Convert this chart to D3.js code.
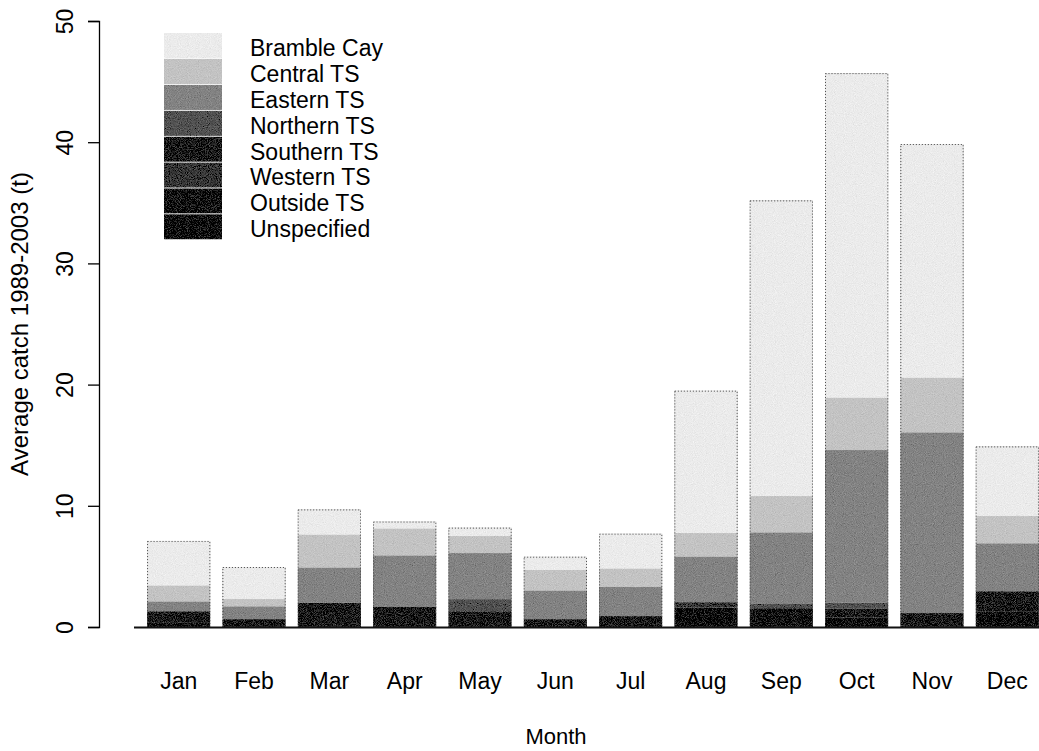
<!DOCTYPE html>
<html>
<head>
<meta charset="utf-8">
<script src="https://cdn.jsdelivr.net/npm/d3@7"></script>
<style>
  html, body { margin: 0; padding: 0; background: #fff; }
  svg { display: block; font-family: "Liberation Sans", Arial, Helvetica, sans-serif; }
</style>
</head>
<body>
<svg id="chart" width="1039" height="751"></svg>
<script>
// Average monthly catch (t), 1989-2003, by fishing region
const months = ["Jan", "Feb", "Mar", "Apr", "May", "Jun", "Jul", "Aug", "Sep", "Oct", "Nov", "Dec"];

// Stack order, bottom to top
const regions = ["Unspecified", "Outside TS", "Western TS", "Southern TS", "Northern TS", "Eastern TS", "Central TS", "Bramble Cay"];

const unspecified = [0.4, 0, 0, 0, 0, 0, 0, 1.6, 0, 0.8, 0, 1.3];
const outsideTS   = [0, 0, 0, 0, 0, 0, 0, 0, 1.55, 0, 0, 0];
const westernTS   = [0, 0, 0, 0, 0, 0, 0, 0.45, 0, 0, 0, 0];
const southernTS  = [0.9, 0.65, 2.0, 1.65, 1.3, 0.65, 0.9, 0, 0, 0.7, 1.15, 1.65];
const northernTS  = [0, 0, 0, 0, 1.0, 0, 0, 0, 0.35, 0.5, 0, 0];
const easternTS   = [0.8, 1.05, 2.9, 4.25, 3.8, 2.35, 2.4, 3.75, 5.9, 12.6, 14.9, 3.95];
const centralTS   = [1.3, 0.6, 2.7, 2.2, 1.4, 1.7, 1.5, 1.95, 3.0, 4.3, 4.5, 2.25];
const brambleCay  = [3.7, 2.65, 2.1, 0.6, 0.7, 1.1, 2.9, 11.75, 24.4, 26.8, 19.3, 5.75];

const yTicks = [0, 10, 20, 30, 40, 50];

const seriesValues = [unspecified, outsideTS, westernTS, southernTS, northernTS, easternTS, centralTS, brambleCay];
const greys = ["#000000", "#0d0d0d", "#383838", "#1c1c1c", "#525252", "#838383", "#c3c3c3", "#ebebeb"];

const table = months.map((m, i) => {
  const row = { month: m };
  regions.forEach((r, k) => { row[r] = seriesValues[k][i]; });
  return row;
});

const svg = d3.select("#chart");

// grain for the filled areas
const defs = svg.append("defs");
const f = defs.append("filter").attr("id", "grain")
  .attr("x", 0).attr("y", 0).attr("width", 1).attr("height", 1);
f.append("feTurbulence").attr("type", "fractalNoise").attr("baseFrequency", 1.1)
  .attr("numOctaves", 1).attr("seed", 7).attr("result", "noise");
f.append("feColorMatrix").attr("in", "noise").attr("type", "matrix")
  .attr("values", "0.33 0.33 0.33 0 0  0.33 0.33 0.33 0 0  0.33 0.33 0.33 0 0  0 0 0 0 1")
  .attr("result", "gnoise");
f.append("feComposite").attr("in", "SourceGraphic").attr("in2", "gnoise")
  .attr("operator", "arithmetic").attr("k1", 0).attr("k2", 1).attr("k3", 0.5).attr("k4", -0.25)
  .attr("result", "mix");
f.append("feComposite").attr("in", "mix").attr("in2", "SourceGraphic").attr("operator", "in");

const x = d3.scaleBand().domain(months).range([135, 1051]).padding(0.16);
const y = d3.scaleLinear().domain([0, 50]).range([627, 21]);
const color = d3.scaleOrdinal().domain(regions).range(greys);

const stack = d3.stack().keys(regions)(table);

// bars
const bars = svg.append("g").attr("filter", "url(#grain)");
bars.selectAll("g.layer")
  .data(stack)
  .join("g")
  .attr("class", "layer")
  .attr("fill", d => color(d.key))
  .selectAll("rect")
  .data(d => d)
  .join("rect")
  .attr("x", d => x(d.data.month))
  .attr("width", x.bandwidth())
  .attr("y", d => y(d[1]))
  .attr("height", d => Math.max(0, y(d[0]) - y(d[1])));

// dotted outline of each bar
svg.append("g").selectAll("rect")
  .data(table)
  .join("rect")
  .attr("x", d => x(d.month) + 0.5)
  .attr("width", x.bandwidth() - 1)
  .attr("y", d => y(d3.sum(regions, r => d[r])) + 0.5)
  .attr("height", d => y(0) - y(d3.sum(regions, r => d[r])) - 1)
  .attr("fill", "none")
  .attr("stroke", "#444")
  .attr("stroke-width", 1)
  .attr("stroke-dasharray", "1,2");

// baseline
svg.append("line")
  .attr("x1", 134).attr("x2", 1039)
  .attr("y1", y(0) + 0.5).attr("y2", y(0) + 0.5)
  .attr("stroke", "#111").attr("stroke-width", 2);

// y axis
const yAxis = svg.append("g")
  .attr("transform", "translate(99,0)")
  .call(d3.axisLeft(y).tickValues(yTicks).tickSize(11).tickPadding(0).tickFormat(d3.format("d")));
yAxis.select(".domain").attr("stroke", "#000").attr("stroke-width", 1.3);
yAxis.selectAll(".tick line").attr("stroke", "#000").attr("stroke-width", 1.3);
yAxis.selectAll(".tick text")
  .attr("x", 0).attr("dy", 0)
  .attr("transform", "translate(-34,0) rotate(-90)")
  .attr("text-anchor", "middle")
  .attr("dominant-baseline", "central")
  .attr("font-size", 23)
  .attr("font-family", "Liberation Sans, Arial, sans-serif")
  .attr("fill", "#000");

// month labels
svg.append("g")
  .attr("transform", `translate(0,${y(0)})`)
  .call(d3.axisBottom(x).tickSize(0).tickPadding(0))
  .call(g => g.select(".domain").remove())
  .selectAll("text")
  .attr("y", 62).attr("dy", 0)
  .attr("font-size", 23)
  .attr("font-family", "Liberation Sans, Arial, sans-serif")
  .attr("fill", "#000");

// axis titles
svg.append("text")
  .attr("x", 556).attr("y", 736)
  .attr("text-anchor", "middle")
  .attr("dominant-baseline", "central")
  .attr("font-size", 22)
  .text("Month");

svg.append("text")
  .attr("transform", `translate(28,${y(25)}) rotate(-90)`)
  .attr("text-anchor", "middle")
  .attr("font-size", 24)
  .text("Average catch 1989-2003 (t)");

// legend, top entry matches top of stack
const legendKeys = regions.slice().reverse();
const rowH = 25.9;
const legend = svg.append("g").attr("transform", "translate(164,33)");
legend.append("g").attr("filter", "url(#grain)")
  .selectAll("rect")
  .data(legendKeys)
  .join("rect")
  .attr("x", 0).attr("y", (d, i) => i * rowH)
  .attr("width", 58).attr("height", rowH - 0.8)
  .attr("fill", d => color(d));
legend.selectAll("text")
  .data(legendKeys)
  .join("text")
  .attr("x", 86).attr("y", (d, i) => i * rowH + rowH / 2 + 2)
  .attr("dominant-baseline", "central")
  .attr("font-size", 23)
  .text(d => d);
</script>
</body>
</html>
